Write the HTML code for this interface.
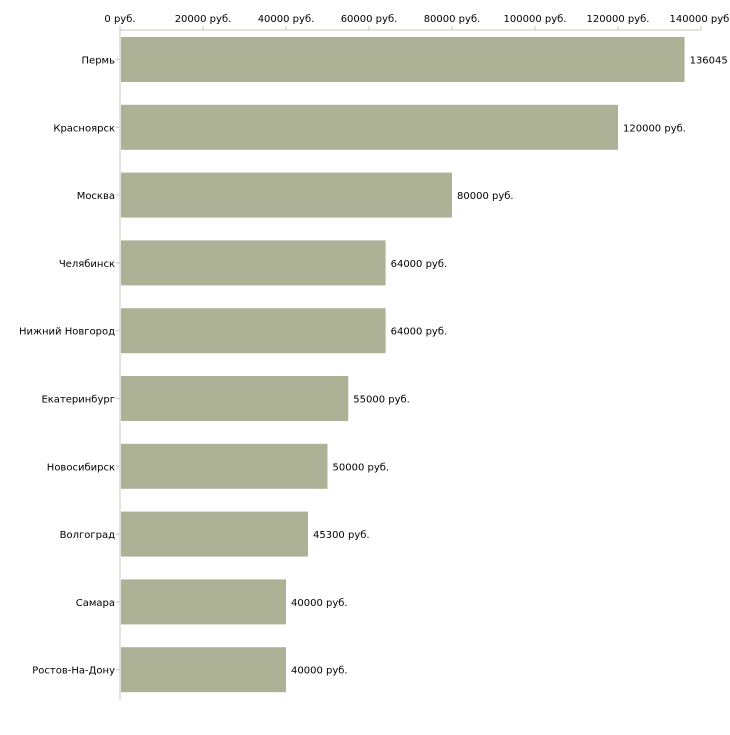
<!DOCTYPE html>
<html><head><meta charset="utf-8"><style>
body{margin:0;background:#fff;width:730px;height:730px;overflow:hidden}
svg text{font-family:"DejaVu Sans","Liberation Sans",sans-serif;font-size:10px;fill:#000}
</style></head><body>
<svg id="c" width="730" height="730"></svg>
<script>
const categories=["Пермь","Красноярск","Москва","Челябинск","Нижний Новгород","Екатеринбург","Новосибирск","Волгоград","Самара","Ростов-На-Дону"];
const values=[136045,120000,80000,64000,64000,55000,50000,45300,40000,40000];
const valueLabels=["136045 руб.","120000 руб.","80000 руб.","64000 руб.","64000 руб.","55000 руб.","50000 руб.","45300 руб.","40000 руб.","40000 руб."];
const ticks=[0,20000,40000,60000,80000,100000,120000,140000];
const tickLabels=["0 руб.","20000 руб.","40000 руб.","60000 руб.","80000 руб.","100000 руб.","120000 руб.","140000 руб."];
const svg=document.getElementById('c');
const NS="http://www.w3.org/2000/svg";
const x0=120,x1=701,axisTop=30,axisBottom=700;
const xs=v=>x0+(x1-x0)*v/140000;
const band=67.8,barH=45,firstTop=37;
const ys=i=>firstTop+i*band;
function mk(t,a,txt){const e=document.createElementNS(NS,t);for(const k in a)e.setAttribute(k,a[k]);if(txt!==undefined)e.textContent=txt;svg.appendChild(e);return e;}
let e=mk('line',{x1:x0,y1:axisTop,x2:x1,y2:axisTop,stroke:'#c8c8b8'});


e=mk('line',{x1:x0,y1:axisTop,x2:x0,y2:axisBottom,stroke:'#c8c8b8'});


ticks.forEach((t,i)=>{
 const x=xs(t);
 let l=mk('line',{x1:x,y1:axisTop-4,x2:x,y2:axisTop,stroke:'#c8c8b8'});
 
 
 let tx=mk('text',{x:x,y:22,'text-anchor':'middle'},tickLabels[i]);
 
 
});
categories.forEach((c,i)=>{
 const y=ys(i);
 let r=mk('rect',{x:x0+1,y:y,width:xs(values[i])-x0-1,height:barH,fill:'#adb297'});
 
 
 let l=mk('line',{x1:x0-4,y1:y+barH/2,x2:x0,y2:y+barH/2,stroke:'#c8c8b8'});
 
 
 let t=mk('text',{x:x0-5,y:y+barH/2+4,'text-anchor':'end'},c);
 
 
 let v=mk('text',{x:xs(values[i])+5,y:y+barH/2+4},valueLabels[i]);
 
 
});
</script>
</body></html>
